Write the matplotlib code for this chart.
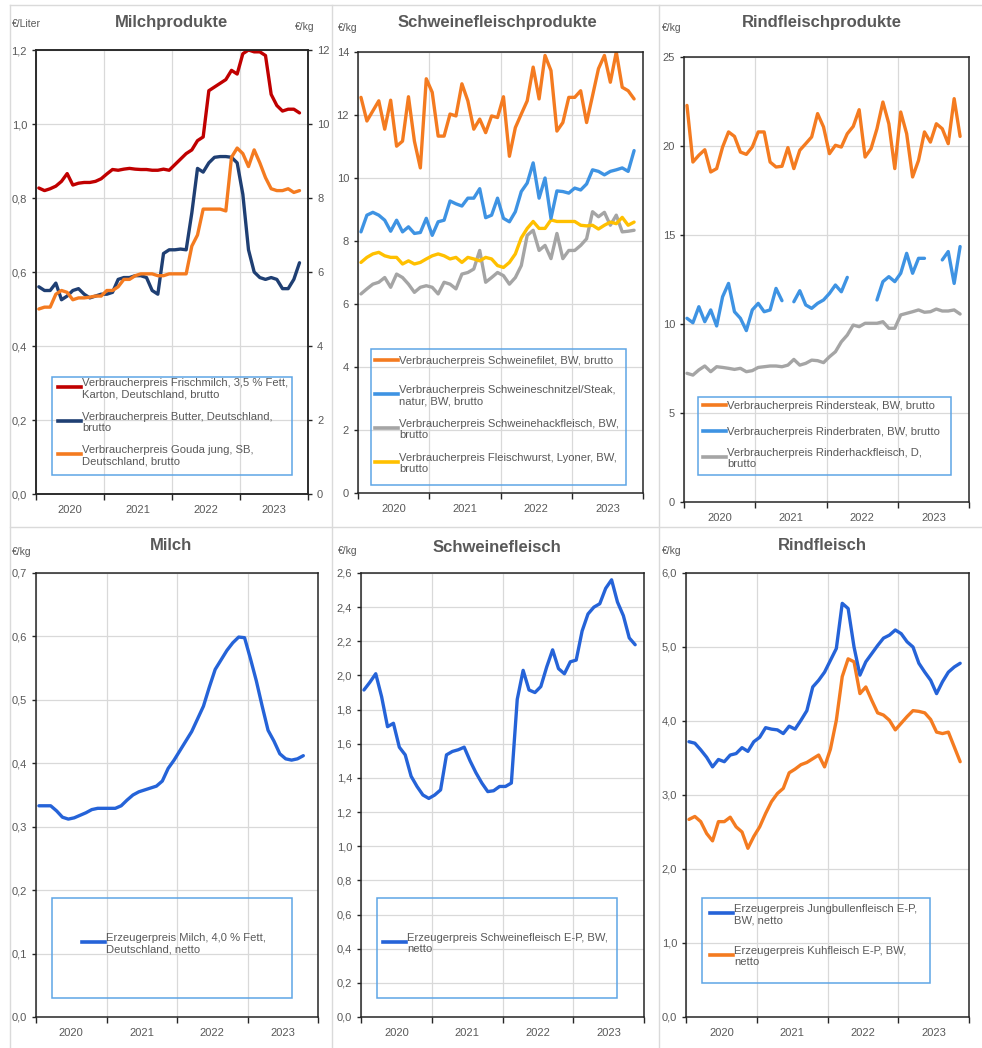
import numpy as np
import matplotlib.pyplot as plt
from matplotlib.lines import Line2D
from matplotlib.patches import Rectangle
from matplotlib.ticker import FuncFormatter

plt.rcParams['font.family'] = ['Liberation Sans', 'DejaVu Sans']

W, H = 982, 1048
years = ['2020', '2021', '2022', '2023']

# monthly values, Jan 2020 onwards
# Milchprodukte (Frischmilch in EUR/Liter, left axis; Butter/Gouda in EUR/kg, right axis)
frischmilch = [0.827, 0.82, 0.825, 0.832, 0.845, 0.866, 0.835, 0.84, 0.842, 0.842,
               0.845, 0.852, 0.865, 0.877, 0.875, 0.878, 0.88, 0.878, 0.877, 0.877,
               0.875, 0.875, 0.878, 0.875, 0.89, 0.905, 0.92, 0.93, 0.955, 0.965,
               1.09, 1.10, 1.11, 1.12, 1.145, 1.135, 1.19, 1.2, 1.195, 1.195,
               1.185, 1.08, 1.05, 1.035, 1.04, 1.04, 1.03]
butter = [5.6, 5.5, 5.5, 5.7, 5.25, 5.35, 5.5, 5.55, 5.4, 5.3,
          5.35, 5.4, 5.4, 5.45, 5.8, 5.85, 5.85, 5.9, 5.9, 5.85,
          5.5, 5.4, 6.5, 6.6, 6.6, 6.62, 6.6, 7.6, 8.8, 8.7,
          8.95, 9.1, 9.12, 9.12, 9.1, 8.95, 8.1, 6.6, 6.0, 5.85,
          5.8, 5.85, 5.8, 5.55, 5.55, 5.8, 6.25]
gouda = [5.0, 5.05, 5.05, 5.4, 5.5, 5.45, 5.25, 5.3, 5.3, 5.32,
         5.35, 5.35, 5.5, 5.5, 5.6, 5.8, 5.8, 5.9, 5.95, 5.95,
         5.95, 5.9, 5.9, 5.95, 5.95, 5.95, 5.95, 6.7, 7.0, 7.7,
         7.7, 7.7, 7.7, 7.65, 9.1, 9.35, 9.2, 8.85, 9.3, 8.95,
         8.55, 8.25, 8.2, 8.2, 8.25, 8.15, 8.2]

# Schweinefleischprodukte (EUR/kg)
schweinefilet = [12.56, 11.81, 12.13, 12.45, 11.55, 12.47, 11.01, 11.17, 12.58, 11.17,
                 10.32, 13.15, 12.72, 11.33, 11.33, 12.03, 11.97, 12.99, 12.45, 11.55,
                 11.87, 11.44, 11.97, 11.92, 12.58, 10.69, 11.6, 12.03, 12.45, 13.52,
                 12.51, 13.89, 13.41, 11.49, 11.76, 12.56, 12.56, 12.77, 11.76, 12.61,
                 13.47, 13.89, 13.04, 14.0, 12.88, 12.77, 12.51]
schnitzel = [8.29, 8.82, 8.91, 8.82, 8.66, 8.31, 8.66, 8.29, 8.45, 8.24,
             8.27, 8.72, 8.18, 8.61, 8.66, 9.27, 9.18, 9.11, 9.36, 9.36,
             9.66, 8.74, 8.82, 9.36, 8.72, 8.61, 8.93, 9.57, 9.84, 10.48,
             9.36, 10.0, 8.72, 9.59, 9.57, 9.52, 9.68, 9.62, 9.81, 10.26,
             10.21, 10.1, 10.21, 10.26, 10.32, 10.21, 10.87]
schweinehack = [6.32, 6.48, 6.63, 6.69, 6.84, 6.53, 6.95, 6.84, 6.63, 6.37,
                6.53, 6.58, 6.53, 6.32, 6.69, 6.63, 6.48, 6.95, 7.0, 7.11,
                7.7, 6.69, 6.84, 7.0, 6.9, 6.63, 6.84, 7.22, 8.18, 8.34,
                7.7, 7.86, 7.44, 8.24, 7.44, 7.7, 7.7, 7.86, 8.07, 8.93,
                8.77, 8.91, 8.5, 8.82, 8.29, 8.31, 8.34]
fleischwurst = [7.32, 7.48, 7.59, 7.64, 7.53, 7.48, 7.48, 7.27, 7.37, 7.27,
                7.32, 7.43, 7.53, 7.59, 7.53, 7.43, 7.48, 7.32, 7.48, 7.43,
                7.37, 7.48, 7.43, 7.22, 7.16, 7.32, 7.59, 8.1, 8.4, 8.62,
                8.4, 8.4, 8.67, 8.62, 8.62, 8.62, 8.62, 8.5, 8.48, 8.5,
                8.38, 8.5, 8.6, 8.55, 8.75, 8.5, 8.6]

# Rindfleischprodukte (EUR/kg)
rindersteak = [22.28, 19.10, 19.48, 19.79, 18.54, 18.73, 19.94, 20.79, 20.54, 19.66,
               19.53, 19.94, 20.79, 20.79, 19.10, 18.82, 18.86, 19.91, 18.73, 19.76,
               20.13, 20.51, 21.82, 21.07, 19.57, 20.04, 19.94, 20.69, 21.10, 22.04,
               19.38, 19.85, 20.97, 22.47, 21.25, 18.73, 21.91, 20.69, 18.26, 19.19,
               20.79, 20.22, 21.25, 20.97, 20.13, 22.66, 20.54]
rinderbraten = [10.32, 10.07, 10.97, 10.13, 10.79, 9.89, 11.53, 12.28, 10.69, 10.32,
                9.63, 10.79, 11.16, 10.69, 10.79, 12.0, 11.31, np.nan, 11.25, 11.87,
                11.07, 10.88, 11.16, 11.35, 11.72, 12.19, 11.81, 12.62, np.nan, np.nan,
                np.nan, np.nan, 11.35, 12.38, 12.66, 12.38, 12.85, 13.97, 12.85, 13.69,
                13.69, np.nan, np.nan, 13.6, 14.07, 12.28, 14.35]
rinderhack = [7.23, 7.13, 7.42, 7.64, 7.32, 7.6, 7.56, 7.51, 7.45, 7.51,
              7.32, 7.38, 7.56, 7.6, 7.64, 7.64, 7.6, 7.69, 8.01, 7.69,
              7.79, 7.97, 7.94, 7.83, 8.16, 8.44, 9.0, 9.38, 9.94, 9.85,
              10.04, 10.04, 10.04, 10.13, 9.76, 9.76, 10.51, 10.6, 10.69, 10.79,
              10.66, 10.69, 10.84, 10.73, 10.73, 10.79, 10.56]

# Erzeugerpreise
milch = [0.333, 0.333, 0.333, 0.325, 0.315, 0.312, 0.314, 0.318, 0.322, 0.327,
         0.329, 0.329, 0.329, 0.329, 0.333, 0.342, 0.35, 0.355, 0.358, 0.361,
         0.364, 0.372, 0.392, 0.405, 0.42, 0.435, 0.45, 0.47, 0.49, 0.52,
         0.548, 0.563, 0.578, 0.59, 0.599, 0.598, 0.565, 0.53, 0.49, 0.452,
         0.435, 0.415, 0.407, 0.405, 0.407, 0.412]
schweinefleisch = [1.915, 1.96, 2.01, 1.875, 1.70, 1.72, 1.58, 1.535, 1.41, 1.35,
                   1.30, 1.28, 1.30, 1.33, 1.535, 1.555, 1.565, 1.58, 1.50, 1.43,
                   1.37, 1.32, 1.325, 1.35, 1.35, 1.37, 1.86, 2.03, 1.915, 1.90,
                   1.935, 2.05, 2.15, 2.04, 2.01, 2.08, 2.09, 2.26, 2.36, 2.40,
                   2.42, 2.51, 2.56, 2.43, 2.35, 2.22, 2.18]
jungbulle = [3.72, 3.70, 3.61, 3.51, 3.38, 3.48, 3.45, 3.54, 3.56, 3.64,
             3.59, 3.72, 3.78, 3.91, 3.89, 3.88, 3.83, 3.93, 3.89, 4.01,
             4.14, 4.46, 4.55, 4.66, 4.82, 4.98, 5.59, 5.52, 5.0, 4.62,
             4.80, 4.91, 5.02, 5.12, 5.16, 5.23, 5.18, 5.07, 5.0, 4.78,
             4.66, 4.55, 4.37, 4.53, 4.66, 4.73, 4.78]
kuhfleisch = [2.67, 2.71, 2.64, 2.48, 2.38, 2.64, 2.64, 2.70, 2.57, 2.50,
              2.28, 2.44, 2.57, 2.75, 2.91, 3.02, 3.09, 3.30, 3.35, 3.41,
              3.44, 3.49, 3.54, 3.38, 3.62, 4.01, 4.60, 4.84, 4.80, 4.37,
              4.46, 4.28, 4.11, 4.08, 4.01, 3.88, 3.97, 4.06, 4.14, 4.13,
              4.11, 4.02, 3.85, 3.83, 3.85, 3.65, 3.45]

RED = '#C00000'
NAVY = '#1F3F73'
ORANGE = '#F47B20'
LBLUE = '#3E93E3'
GREY = '#A5A5A5'
YELLOW = '#FFC000'
BLUE = '#2563D8'
TXT = '#595959'

fig = plt.figure(figsize=(W / 100, H / 100), dpi=100)


def fx(x):
    return x / W


def fy(y):
    return 1 - y / H


def make_ax(left, top, right, bottom):
    return fig.add_axes([fx(left), fy(bottom), (right - left) / W, (bottom - top) / H])


def dec1(v, p):
    return f'{v:.1f}'.replace('.', ',')


def intfmt(v, p):
    return f'{v:.0f}'


def style(ax, ymax, ystep, fmt):
    ax.set_xlim(0, 48)
    ax.set_ylim(0, ymax)
    ax.set_yticks(np.arange(0, ymax + ystep / 2, ystep))
    ax.yaxis.set_major_formatter(FuncFormatter(fmt))
    ax.set_xticks([0, 12, 24, 36, 48])
    ax.set_xticklabels([])
    ax.set_xticks([6, 18, 30, 42], minor=True)
    ax.set_xticklabels(years, minor=True)
    ax.tick_params(axis='x', which='major', length=4, width=1, color='#262626')
    ax.tick_params(axis='x', which='minor', length=0, pad=8, labelsize=8, labelcolor=TXT)
    ax.tick_params(axis='y', length=3, width=1, labelsize=8, labelcolor=TXT, color='#262626')
    ax.grid(True, which='major', color='#D9D9D9', lw=0.9)
    ax.set_axisbelow(True)
    for s in ax.spines.values():
        s.set_color('#262626')
        s.set_linewidth(1.1)


def series(ax, values, color):
    x = np.arange(len(values)) + 0.5
    ax.plot(x, values, color=color, lw=2.4, solid_joinstyle='round', solid_capstyle='round')


def title(x, y, s):
    fig.text(fx(x), fy(y), s, ha='center', va='center', fontsize=12,
             fontweight='bold', color=TXT)


def unit(x, y, s, ha='left'):
    fig.text(fx(x), fy(y), s, ha=ha, va='center', fontsize=7.5, color=TXT)


def legend_box(box, entries, hx, ys):
    x0, y0, x1, y1 = box
    fig.add_artist(Rectangle((fx(x0), fy(y1)), (x1 - x0) / W, (y1 - y0) / H,
                             transform=fig.transFigure, fill=False,
                             ec='#5EA5E6', lw=1.1))
    for (label, color), y in zip(entries, ys):
        fig.add_artist(Line2D([fx(hx), fx(hx + 23)], [fy(y), fy(y)],
                              transform=fig.transFigure, color=color, lw=2.6))
        fig.text(fx(hx + 24), fy(y), label, fontsize=8.1, color=TXT,
                 va='center_baseline', ha='left', linespacing=1.15)


# panel frames
for y in (5, 527):
    fig.add_artist(Line2D([fx(10), 1], [fy(y), fy(y)], transform=fig.transFigure,
                          color='#DADADA', lw=1))
for x in (10, 332, 659):
    fig.add_artist(Line2D([fx(x), fx(x)], [fy(5), 0], transform=fig.transFigure,
                          color='#DADADA', lw=1))

# --- Milchprodukte
ax = make_ax(36, 50, 308, 494)
style(ax, 1.2, 0.2, dec1)
ax2 = ax.twinx()
ax2.set_ylim(0, 12)
ax2.set_yticks(np.arange(0, 13, 2))
ax2.yaxis.set_major_formatter(FuncFormatter(intfmt))
ax2.tick_params(axis='y', length=3, width=1, labelsize=8, labelcolor=TXT, color='#262626')
for s in ax2.spines.values():
    s.set_color('#262626')
    s.set_linewidth(1.1)
series(ax, frischmilch, RED)
series(ax2, butter, NAVY)
series(ax2, gouda, ORANGE)
title(172, 23, 'Milchprodukte')
unit(12, 24, '€/Liter')
unit(315, 27, '€/kg', ha='right')
legend_box((52, 377, 292, 475),
           [('Verbraucherpreis Frischmilch, 3,5 % Fett,\nKarton, Deutschland, brutto', RED),
            ('Verbraucherpreis Butter, Deutschland,\nbrutto', NAVY),
            ('Verbraucherpreis Gouda jung, SB,\nDeutschland, brutto', ORANGE)],
           58, [387, 421, 454])

# --- Schweinefleischprodukte
ax = make_ax(358, 52, 643, 493)
style(ax, 14, 2, intfmt)
series(ax, schweinehack, GREY)
series(ax, fleischwurst, YELLOW)
series(ax, schnitzel, LBLUE)
series(ax, schweinefilet, ORANGE)
title(497, 23, 'Schweinefleischprodukte')
unit(338, 28, '€/kg')
legend_box((371, 349, 626, 485),
           [('Verbraucherpreis Schweinefilet, BW, brutto', ORANGE),
            ('Verbraucherpreis Schweineschnitzel/Steak,\nnatur, BW, brutto', LBLUE),
            ('Verbraucherpreis Schweinehackfleisch, BW,\nbrutto', GREY),
            ('Verbraucherpreis Fleischwurst, Lyoner, BW,\nbrutto', YELLOW)],
           375, [360, 394, 428, 462])

# --- Rindfleischprodukte
ax = make_ax(684, 57, 969, 502)
style(ax, 25, 5, intfmt)
series(ax, rinderhack, GREY)
series(ax, rinderbraten, LBLUE)
series(ax, rindersteak, ORANGE)
title(822, 23, 'Rindfleischprodukte')
unit(662, 28, '€/kg')
legend_box((698, 397, 951, 475),
           [('Verbraucherpreis Rindersteak, BW, brutto', ORANGE),
            ('Verbraucherpreis Rinderbraten, BW, brutto', LBLUE),
            ('Verbraucherpreis Rinderhackfleisch, D,\nbrutto', GREY)],
           703, [405, 431, 457])

# --- Milch
ax = make_ax(36, 573, 318, 1017)
style(ax, 0.7, 0.1, dec1)
series(ax, milch, BLUE)
title(171, 546, 'Milch')
unit(12, 552, '€/kg')
legend_box((52, 898, 292, 998),
           [('Erzeugerpreis Milch, 4,0 % Fett,\nDeutschland, netto', BLUE)],
           82, [942])

# --- Schweinefleisch
ax = make_ax(361, 573, 644, 1017)
style(ax, 2.6, 0.2, dec1)
series(ax, schweinefleisch, BLUE)
title(497, 547, 'Schweinefleisch')
unit(338, 551, '€/kg')
legend_box((377, 898, 617, 998),
           [('Erzeugerpreis Schweinefleisch E-P, BW,\nnetto', BLUE)],
           383, [942])

# --- Rindfleisch
ax = make_ax(686, 573, 969, 1017)
style(ax, 6.0, 1.0, dec1)
series(ax, kuhfleisch, ORANGE)
series(ax, jungbulle, BLUE)
title(822, 546, 'Rindfleisch')
unit(662, 551, '€/kg')
legend_box((702, 898, 930, 983),
           [('Erzeugerpreis Jungbullenfleisch E-P,\nBW, netto', BLUE),
            ('Erzeugerpreis Kuhfleisch E-P, BW,\nnetto', ORANGE)],
           710, [913, 955])

fig.savefig('out.png', dpi=100)
